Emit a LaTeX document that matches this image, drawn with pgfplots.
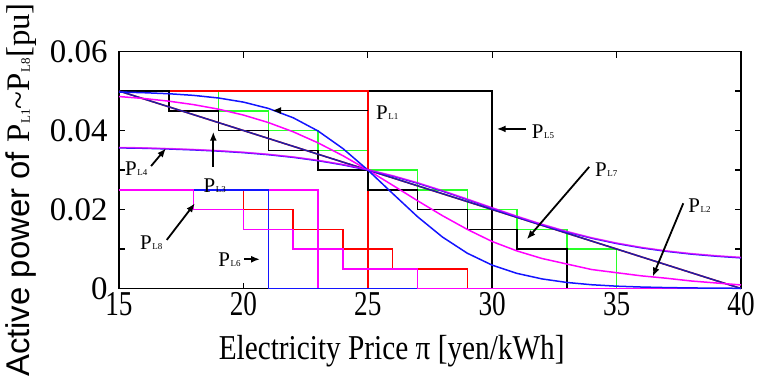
\documentclass[border=0pt]{standalone}
\usepackage{fontspec}
\setmainfont{Liberation Serif}
\newfontfamily\sansf{Liberation Sans}
\newfontfamily\xserif{Liberation Serif}[FakeStretch=0.78]
\newfontfamily\lserif{Liberation Serif}[FakeStretch=0.84]
\usepackage{pgfplots}
\pgfplotsset{compat=1.18}
\usetikzlibrary{arrows.meta}

\definecolor{cgreen}{RGB}{40,255,40}
\definecolor{cblue}{RGB}{20,20,255}
\definecolor{cnavy}{RGB}{30,30,165}
\definecolor{cmag}{RGB}{255,0,255}
\definecolor{cred}{RGB}{255,0,0}

\tikzset{
  ann/.style={-{Latex[length=9bp,width=7bp]}, line width=1.8bp, black},
  annlab/.style={anchor=base west, inner sep=0pt, font=\fontsize{21}{21}\selectfont},
}

% load label: P with a small "L<n>" set on the baseline
\newcommand{\PL}[2]{P\kern0.03em{\fontsize{#2}{#2}\selectfont L#1}}

\begin{document}
\begin{tikzpicture}
\useasboundingbox (-119bp,-90.5bp) rectangle (644bp,288.5bp);
\begin{axis}[
  scale only axis, width=622bp, height=237bp,
  xmin=15, xmax=40, ymin=0, ymax=0.06,
  clip=false,
  axis line style={line width=1.4bp},
  tick align=inside, major tick length=6bp, minor tick length=6bp,
  tick style={line width=1.1bp, black},
  xtick={15,20,25,30,35,40},
  ytick={0,0.02,0.04,0.06}, minor y tick num=1,
  scaled y ticks=false,
  /pgf/number format/assume math mode=true,
  xticklabel style={font=\xserif\fontsize{35}{35}\selectfont},
  yticklabel style={font=\fontsize{33}{33}\selectfont, xshift=-8bp,
    /pgf/number format/fixed, /pgf/number format/precision=2},
  every axis plot/.append style={line width=1.5bp, mark=none, sharp plot},
]

% P_L5: full block up to 30 yen/kWh
\addplot[black] coordinates {(15,0.05) (30,0.05) (30,0)};
% stepped bids, 2 yen/kWh steps
\addplot[cgreen] coordinates {(15,0.05) (19,0.05) (19,0.045) (21,0.045) (21,0.04)
  (23,0.04) (23,0.035) (25,0.035) (25,0.03) (27,0.03) (27,0.025) (29,0.025) (29,0.02)
  (31,0.02) (31,0.015) (33,0.015) (33,0.01) (35,0.01) (35,0)};
\addplot[cred] coordinates {(15,0.05) (25,0.05) (25,0)};
\addplot[black] coordinates {(15,0.05) (17,0.05) (17,0.045) (19,0.045) (19,0.04)
  (21,0.04) (21,0.035) (23,0.035) (23,0.03) (25,0.03) (25,0.025) (27,0.025) (27,0.02)
  (29,0.02) (29,0.015) (31,0.015) (31,0.01) (33,0.01) (33,0)};
% small loads
\addplot[cred] coordinates {(15,0.025) (20,0.025) (20,0.02) (22,0.02) (22,0.015)
  (24,0.015) (24,0.01) (26,0.01) (26,0.005) (29,0.005) (29,0)};
\addplot[cmag] coordinates {(15,0.025) (23,0.025) (23,0)};
\addplot[cblue] coordinates {(15,0.025) (21,0.025) (21,0) (27,0)};
\addplot[cmag] coordinates {(15,0.025) (18,0.025) (18,0.02) (20,0.02) (20,0.015)
  (22,0.015) (22,0.01) (24,0.01) (24,0.005) (27,0.005) (27,0) (40,0)};

% linear demand
\addplot[cred] coordinates {(15,0.05) (20,0.04) (25,0.03) (30,0.02) (35,0.01) (40,0)};
\addplot[cnavy] coordinates {(15,0.05) (17,0.046) (20,0.04) (23,0.034) (25,0.03)
  (28,0.024) (30,0.02) (33,0.014) (35,0.01) (38,0.004) (40,0)};

% smooth demand curves
\addplot[cmag] coordinates {(15,0.0486) (16,0.0481) (17,0.04743) (18,0.04655)
  (19,0.0454) (20,0.04391) (21,0.04202) (22,0.03968) (23,0.03687) (24,0.03362)
  (25,0.03) (26,0.02614) (27,0.02222) (28,0.01844) (29,0.01496) (30,0.01189)
  (31,0.0095) (32,0.0076) (33,0.0062) (34,0.0048) (35,0.004) (36,0.0032)
  (37,0.0026) (38,0.0019) (39,0.0014) (40,0.0009)};
\addplot[cblue] coordinates {(15,0.04974) (16,0.04957) (17,0.04931) (18,0.04889)
  (19,0.04823) (20,0.04719) (21,0.0456) (22,0.04323) (23,0.03988) (24,0.03543)
  (25,0.03) (26,0.02404) (27,0.01817) (28,0.01303) (29,0.00893) (30,0.00591)
  (31,0.00382) (32,0.00243) (33,0.00153) (34,0.00095) (35,0.00059) (36,0.00037)
  (37,0.00023) (38,0.00014) (39,0.00009) (40,0.00005)};
\addplot[cblue] coordinates {(15,0.0356) (16,0.0355) (17,0.03532) (18,0.03509)
  (19,0.03479) (20,0.0344) (21,0.03388) (22,0.03321) (23,0.03236) (24,0.0313)
  (25,0.03) (26,0.02845) (27,0.02666) (28,0.02466) (29,0.02252) (30,0.02033)
  (31,0.01817) (32,0.01615) (33,0.01432) (34,0.01273) (35,0.01139) (36,0.01029)
  (37,0.00941) (38,0.00871) (39,0.00818) (40,0.00776)};
\addplot[cmag, opacity=0.7] coordinates {(15,0.0357) (16,0.0356) (17,0.03542) (18,0.03519)
  (19,0.03489) (20,0.0345) (21,0.03398) (22,0.03331) (23,0.03246) (24,0.0314)
  (25,0.0301) (26,0.02857) (27,0.02678) (28,0.02478) (29,0.02264) (30,0.02045)
  (31,0.01829) (32,0.01627) (33,0.01444) (34,0.01285) (35,0.01151) (36,0.01041)
  (37,0.00953) (38,0.00883) (39,0.0083) (40,0.00788)};

% annotations
\draw[ann] (axis cs:25.01,0.04506) -- (axis cs:21.15,0.04506);
\node[annlab] at (axis cs:25.33,0.04266) {\PL{1}{9}};
\draw[ann] (axis cs:31.35,0.0404) -- (axis cs:30.18,0.0404);
\node[annlab] at (axis cs:31.59,0.03803) {\PL{5}{9}};
\draw[ann] (axis cs:33.90,0.0308) -- (axis cs:31.39,0.01245);
\node[annlab] at (axis cs:34.13,0.02848) {\PL{7}{9}};
\draw[ann] (axis cs:37.68,0.02157) -- (axis cs:36.45,0.0030);
\node[annlab] at (axis cs:37.88,0.01919) {\PL{2}{9}};
\draw[ann] (axis cs:16.29,0.0310) -- (axis cs:16.89,0.0355);
\node[annlab] at (axis cs:15.24,0.02873) {\PL{4}{9}};
\draw[ann] (axis cs:18.79,0.0308) -- (axis cs:18.79,0.0397);
\node[annlab] at (axis cs:18.39,0.02425) {\PL{3}{9}};
\draw[ann] (axis cs:16.92,0.0123) -- (axis cs:18.05,0.02157);
\node[annlab] at (axis cs:15.84,0.0100) {\PL{8}{9}};
\draw[ann] (axis cs:20.02,0.0074) -- (axis cs:20.67,0.0074);
\node[annlab] at (axis cs:18.99,0.00553) {\PL{6}{9}};

% axis titles
\node[anchor=base, inner sep=0pt, font=\lserif\fontsize{35}{35}\selectfont]
  at (axis cs:25.96,-0.01785) {Electricity Price π [yen/kWh]};
\node[rotate=90, anchor=center, inner sep=0pt, font=\fontsize{33}{33}\selectfont]
  at (axis cs:11.08,0.02494) {{\sansf Active power of }\PL{1}{13}\textasciitilde\PL{8}{13}[pu]};
\end{axis}
\end{tikzpicture}
\end{document}
